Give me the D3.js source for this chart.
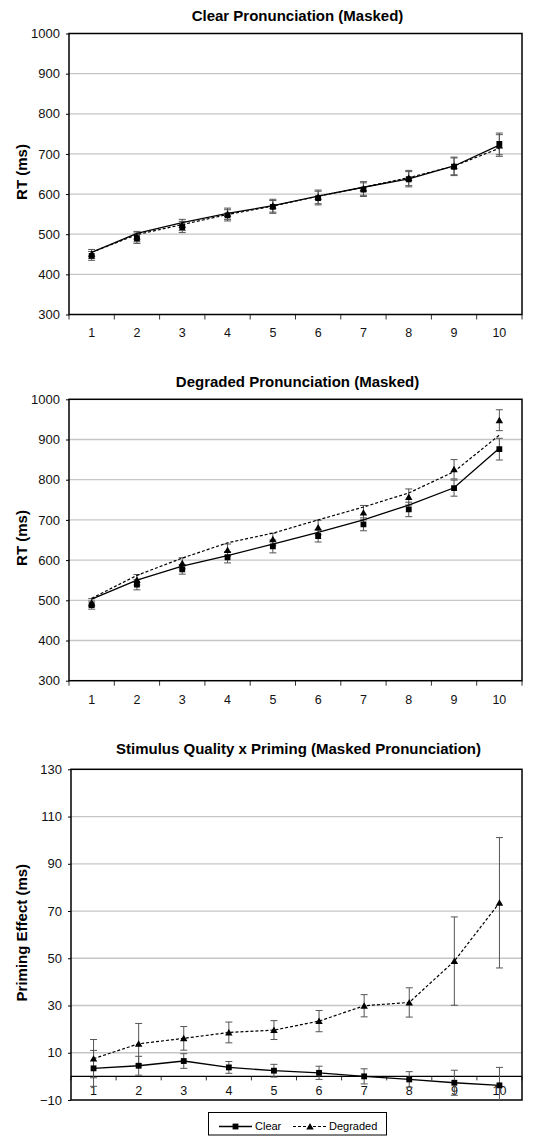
<!DOCTYPE html>
<html>
<head>
<meta charset="utf-8">
<script src="https://cdn.jsdelivr.net/npm/d3@7"></script>
<style>
  body { margin: 0; background: #fff; }
  svg { display: block; font-family: "Liberation Sans", Arial, sans-serif; }
</style>
</head>
<body>
<svg id="chart" width="536" height="1137"></svg>
<script>
// Word-length bins 1..10
const categories = ["1", "2", "3", "4", "5", "6", "7", "8", "9", "10"];

// Panel 1: clear pronunciation (masked), RT in ms
const p1SquareRT = [446, 490, 518, 547, 568, 590, 611, 637, 668, 725];
const p1SquareErr = [11, 13, 14, 14, 16, 17, 17, 19, 22, 27];
const p1TriangleRT = [451, 494, 523, 551, 571, 593, 614, 640, 670, 721];
const p1TriangleErr = [11, 13, 14, 14, 16, 17, 17, 19, 22, 27];
const p1FitSolid = [455, 502, 529, 552, 571, 595, 617, 638, 670, 722];
const p1FitDashed = [455, 499, 524, 549, 570, 595, 617, 641, 670, 714];

// Panel 2: degraded pronunciation (masked), RT in ms
const p2SquareRT = [488, 539, 577, 607, 634, 660, 689, 726, 779, 876];
const p2SquareErr = [10, 13, 12, 14, 16, 15, 16, 18, 20, 27];
const p2TriangleRT = [494, 551, 592, 625, 652, 681, 718, 757, 826, 948];
const p2TriangleErr = [10, 13, 14, 15, 15, 18, 18, 20, 24, 26];
const p2FitSolid = [503, 550, 585, 611, 640, 669, 700, 737, 780, 878];
const p2FitDashed = [505, 562, 605, 643, 667, 700, 732, 767, 820, 911];

// Panel 3: priming effect (ms) by stimulus quality
const clearPriming = [3.4, 4.5, 6.5, 3.8, 2.4, 1.5, 0, -1.3, -2.7, -3.8];
const clearPrimingErr = [7.6, 4, 3.1, 2.5, 2.7, 2.8, 3.2, 3.3, 5.3, 7.6];
const degradedPriming = [7.5, 13.8, 16.1, 18.6, 19.6, 23.4, 29.9, 31.3, 48.8, 73.5];
const degradedPrimingErr = [8.1, 8.6, 5, 4.4, 4, 4.5, 4.7, 6.2, 18.7, 27.6];

const rtTicks = [300, 400, 500, 600, 700, 800, 900, 1000];
const primingTicks = [-10, 10, 30, 50, 70, 90, 110, 130];

const svg = d3.select("#chart");

const panels = [
  { title: "Clear Pronunciation (Masked)", yTitle: "RT (ms)", left: 69, right: 522, top: 33.5, bottom: 314.5,
    domain: [300, 1000], ticks: rtTicks, titleY: 16, kind: "rt",
    square: p1SquareRT, squareErr: p1SquareErr, tri: p1TriangleRT, triErr: p1TriangleErr,
    solid: p1FitSolid, dashed: p1FitDashed },
  { title: "Degraded Pronunciation (Masked)", yTitle: "RT (ms)", left: 69, right: 522, top: 399.3, bottom: 680.7,
    domain: [300, 1000], ticks: rtTicks, titleY: 382, kind: "rt",
    square: p2SquareRT, squareErr: p2SquareErr, tri: p2TriangleRT, triErr: p2TriangleErr,
    solid: p2FitSolid, dashed: p2FitDashed },
  { title: "Stimulus Quality x Priming (Masked Pronunciation)", yTitle: "Priming Effect (ms)", left: 71, right: 522, top: 769.3, bottom: 1100,
    domain: [-10, 130], ticks: primingTicks, titleY: 749, kind: "priming",
    square: clearPriming, squareErr: clearPrimingErr, tri: degradedPriming, triErr: degradedPrimingErr,
    solid: clearPriming, dashed: degradedPriming }
];

const squareSym = d3.symbol().type(d3.symbolSquare).size(34);
const triSym = d3.symbol().type(d3.symbolTriangle).size(24);

panels.forEach((p, i) => {
  const x = d3.scaleBand().domain(categories).range([p.left, p.right]).padding(0);
  const y = d3.scaleLinear().domain(p.domain).range([p.bottom, p.top]);
  const cx = c => x(c) + x.bandwidth() / 2;
  const g = svg.append("g");
  const clipId = "clip" + i;
  svg.append("clipPath").attr("id", clipId).append("rect")
    .attr("x", p.left).attr("y", p.top).attr("width", p.right - p.left).attr("height", p.bottom - p.top);

  // title
  g.append("text").attr("x", (p.left + p.right) / 2 + 2).attr("y", p.titleY).attr("dy", "0.35em")
    .attr("text-anchor", "middle").style("font-size", "15px").style("font-weight", "bold").text(p.title);

  // gridlines
  g.append("g").selectAll("line").data(p.ticks.filter(t => t !== p.domain[0] && t !== p.domain[1]))
    .join("line").attr("x1", p.left).attr("x2", p.right).attr("y1", d => y(d)).attr("y2", d => y(d))
    .attr("stroke", "#c6c6c6").attr("stroke-width", 1.3);

  // y axis
  const yAxis = g.append("g").attr("transform", `translate(${p.left},0)`)
    .call(d3.axisLeft(y).tickValues(p.ticks).tickSize(3).tickPadding(6).tickFormat(d3.format("d")));
  yAxis.select(".domain").remove();
  yAxis.selectAll("line").attr("stroke", "#000");
  yAxis.selectAll("text").style("font-size", "13px").attr("fill", "#111");

  // y title
  g.append("text").attr("transform", `translate(22,${(p.top + p.bottom) / 2 - 2}) rotate(-90)`)
    .attr("dy", "0.35em").attr("text-anchor", "middle").style("font-size", "15px").style("font-weight", "bold")
    .text(p.yTitle);

  // x axis
  const axisY = p.kind === "rt" ? p.bottom : y(0);
  const xBoundaries = d3.range(categories.length + 1).map(k => p.left + k * x.bandwidth());
  g.append("g").selectAll("line").data(xBoundaries).join("line")
    .attr("x1", d => d).attr("x2", d => d).attr("y1", axisY).attr("y2", axisY + (p.kind === "rt" ? 5 : 4))
    .attr("stroke", "#000").attr("stroke-width", 0.8);
  const xAxis = g.append("g").attr("transform", `translate(0,${axisY})`)
    .call(d3.axisBottom(x).tickSize(0).tickPadding(p.kind === "rt" ? 14 : 10));
  xAxis.select(".domain").remove();
  xAxis.selectAll("text").style("font-size", "12.5px").attr("fill", "#111");

  // plot frame
  g.append("rect").attr("x", p.left).attr("y", p.top).attr("width", p.right - p.left).attr("height", p.bottom - p.top)
    .attr("fill", "none").attr("stroke", "#000").attr("stroke-width", 1.5);
  if (p.kind === "priming") {
    g.append("line").attr("x1", p.left).attr("x2", p.right).attr("y1", y(0)).attr("y2", y(0))
      .attr("stroke", "#000").attr("stroke-width", 1.3);
  }

  const data = g.append("g").attr("clip-path", `url(#${clipId})`);
  const rows = categories.map((c, k) => ({ c, k }));

  // error bars
  const drawErr = (vals, errs) => {
    const eb = data.append("g").attr("stroke", "#555").attr("stroke-width", 1);
    rows.forEach(r => {
      const xx = cx(r.c), y1 = y(vals[r.k] + errs[r.k]), y2 = y(vals[r.k] - errs[r.k]);
      eb.append("line").attr("x1", xx).attr("x2", xx).attr("y1", y1).attr("y2", y2);
      eb.append("line").attr("x1", xx - 3.5).attr("x2", xx + 3.5).attr("y1", y1).attr("y2", y1);
      eb.append("line").attr("x1", xx - 3.5).attr("x2", xx + 3.5).attr("y1", y2).attr("y2", y2);
    });
  };
  drawErr(p.tri, p.triErr);
  drawErr(p.square, p.squareErr);

  // lines
  const line = vals => d3.line().x(r => cx(r.c)).y(r => y(vals[r.k]))(rows);
  data.append("path").attr("d", line(p.dashed)).attr("fill", "none").attr("stroke", "#000")
    .attr("stroke-width", 1.2).attr("stroke-dasharray", "3,2");
  data.append("path").attr("d", line(p.solid)).attr("fill", "none").attr("stroke", "#000")
    .attr("stroke-width", 1.3);

  // markers
  data.append("g").selectAll("path").data(rows).join("path")
    .attr("transform", r => `translate(${cx(r.c)},${y(p.tri[r.k]) + 0.8})`).attr("d", triSym).attr("fill", "#000");
  data.append("g").selectAll("path").data(rows).join("path")
    .attr("transform", r => `translate(${cx(r.c)},${y(p.square[r.k])})`).attr("d", squareSym).attr("fill", "#000");
});

// legend
const lg = svg.append("g");
lg.append("rect").attr("x", 208.5).attr("y", 1112.5).attr("width", 178).attr("height", 22.5)
  .attr("fill", "#fff").attr("stroke", "#000").attr("stroke-width", 1);
const ly = 1126.5;
lg.append("line").attr("x1", 219).attr("x2", 252).attr("y1", ly).attr("y2", ly).attr("stroke", "#000").attr("stroke-width", 1.3);
lg.append("path").attr("transform", `translate(235.5,${ly})`).attr("d", squareSym).attr("fill", "#000");
lg.append("text").attr("x", 255).attr("y", ly).attr("dy", "0.35em").style("font-size", "11px").text("Clear");
lg.append("line").attr("x1", 293).attr("x2", 327).attr("y1", ly).attr("y2", ly).attr("stroke", "#000")
  .attr("stroke-width", 1.2).attr("stroke-dasharray", "3,2");
lg.append("path").attr("transform", `translate(310,${ly + 0.8})`).attr("d", triSym).attr("fill", "#000");
lg.append("text").attr("x", 329).attr("y", ly).attr("dy", "0.35em").style("font-size", "11px").text("Degraded");
</script>
</body>
</html>
